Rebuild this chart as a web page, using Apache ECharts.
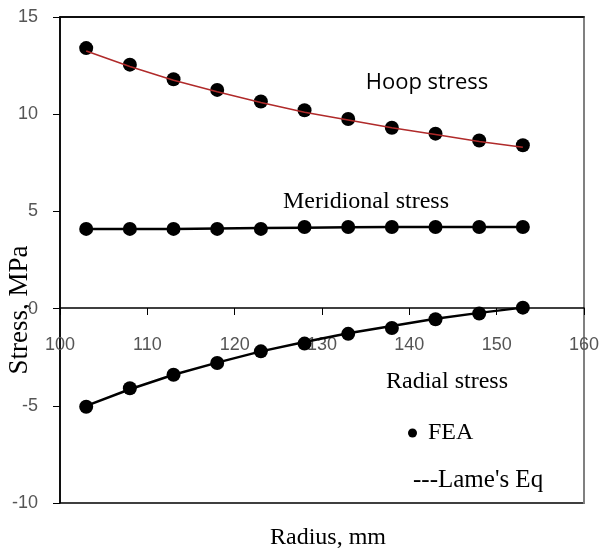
<!DOCTYPE html>
<html>
<head>
<meta charset="utf-8">
<script src="https://cdn.jsdelivr.net/npm/echarts@6/dist/echarts.min.js"></script>
<style>
html, body { margin: 0; padding: 0; background: #fff; }
#chart { width: 602px; height: 551px; }
</style>
</head>
<body>
<div id="chart"></div>
<script>
// radius, mm
var radius = [103, 108, 113, 118, 123, 128, 133, 138, 143, 148, 153];
// FEA points, MPa
var hoopFEA = [13.4, 12.55, 11.8, 11.25, 10.65, 10.2, 9.75, 9.3, 9.0, 8.65, 8.4];
var meridFEA = [4.1, 4.1, 4.1, 4.1, 4.1, 4.2, 4.2, 4.2, 4.2, 4.2, 4.2];
var radialFEA = [-5.05, -4.1, -3.4, -2.8, -2.2, -1.8, -1.3, -1.0, -0.55, -0.25, 0.05];
// Lame's equation curves, MPa
var hoopLame = [13.25, 12.45, 11.75, 11.15, 10.6, 10.1, 9.7, 9.3, 8.95, 8.6, 8.3];
var meridLame = [4.1, 4.1, 4.1, 4.12, 4.14, 4.16, 4.18, 4.2, 4.2, 4.2, 4.2];
var radialLame = [-5.0, -4.15, -3.4, -2.78, -2.2, -1.72, -1.27, -0.9, -0.52, -0.22, 0.05];
var xTicks = [100, 110, 120, 130, 140, 150, 160];
var yTicks = [-10, -5, 0, 5, 10, 15];

function pairs(xs, ys) {
	var out = [];
	for (var i = 0; i < xs.length; i++) {
		out.push([xs[i], ys[i]]);
	}
	return out;
}

function feaSeries(vals) {
	return {
		name : 'FEA',
		type : 'scatter',
		data : pairs(radius, vals),
		symbol : 'circle',
		symbolSize : 14,
		itemStyle : { color : '#000', opacity : 1 },
		z : 3
	};
}

function lameSeries(vals, color, width) {
	return {
		name : 'Lame',
		type : 'line',
		data : pairs(radius, vals),
		symbol : 'none',
		lineStyle : { color : color, width : width },
		z : 4
	};
}

var serif = '"Liberation Serif", "DejaVu Serif", serif';
var sans = '"Liberation Sans", Arial, sans-serif';

var myChart = echarts.init(document.getElementById('chart'));
var option = {
	animation : false,
	grid : {
		left : 60,
		right : 17,
		top : 17,
		bottom : 48,
		show : true,
		borderColor : '#000',
		borderWidth : 1.5
	},
	legend : {
		data : ['FEA'],
		left : 408,
		top : 421,
		padding : 0,
		icon : 'circle',
		itemWidth : 9,
		itemHeight : 9,
		itemStyle : { color : '#000', opacity : 1 },
		textStyle : {
			fontFamily : serif,
			fontSize : 24,
			color : '#000',
			padding : [0, 0, 0, 6]
		}
	},
	xAxis : [ {
		type : 'value',
		position : 'bottom',
		// bottom axis shifted up to sit on y = 0
		offset : -195,
		min : 100,
		max : 160,
		interval : 10,
		axisLine : { onZero : false, lineStyle : { color : '#000', width : 1.5 } },
		axisTick : { show : true, inside : false, length : 7, lineStyle : { color : '#000' } },
		axisLabel : {
			margin : 28,
			fontFamily : sans,
			fontSize : 18,
			color : '#555',
			formatter : function (v) { return xTicks.indexOf(v) >= 0 ? String(v) : ''; }
		},
		splitLine : { show : false }
	}, {
		type : 'value',
		position : 'top',
		min : 100,
		max : 160,
		axisLine : { show : true, onZero : false, lineStyle : { color : '#000', width : 1.5 } },
		axisTick : { show : false },
		axisLabel : { show : false },
		splitLine : { show : false }
	} ],
	yAxis : [ {
		type : 'value',
		min : -10,
		max : 15,
		interval : 5,
		axisLine : { show : true, onZero : false, lineStyle : { color : '#000', width : 1.5 } },
		axisTick : { show : true, inside : false, length : 7, lineStyle : { color : '#000' } },
		axisLabel : {
			margin : 22,
			fontFamily : sans,
			fontSize : 18,
			color : '#555',
			formatter : function (v) { return yTicks.indexOf(v) >= 0 ? String(v) : ''; }
		},
		splitLine : { show : false }
	}, {
		type : 'value',
		position : 'right',
		min : -10,
		max : 15,
		axisLine : { show : true, onZero : false, lineStyle : { color : '#808080', width : 2 } },
		axisTick : { show : false },
		axisLabel : { show : false },
		splitLine : { show : false }
	} ],
	series : [
		feaSeries(hoopFEA),
		feaSeries(meridFEA),
		feaSeries(radialFEA),
		lameSeries(hoopLame, '#b02a2a', 1.5),
		lameSeries(meridLame, '#000', 2.5),
		lameSeries(radialLame, '#000', 2.5)
	],
	graphic : [
		{ type : 'text', x : 427, y : 83, style : { text : 'Hoop stress', fontFamily : '"Open Sans", sans-serif', fontSize : 22, fill : '#000', align : 'center', verticalAlign : 'middle' } },
		{ type : 'text', x : 366, y : 202, style : { text : 'Meridional stress', fontFamily : serif, fontSize : 24, fill : '#000', align : 'center', verticalAlign : 'middle' } },
		{ type : 'text', x : 447, y : 382, style : { text : 'Radial stress', fontFamily : serif, fontSize : 24, fill : '#000', align : 'center', verticalAlign : 'middle' } },
		{ type : 'text', x : 413, y : 480, style : { text : "---Lame's Eq", fontFamily : serif, fontSize : 25, fill : '#000', align : 'left', verticalAlign : 'middle' } },
		{ type : 'text', x : 328, y : 538, style : { text : 'Radius, mm', fontFamily : serif, fontSize : 24, fill : '#000', align : 'center', verticalAlign : 'middle' } },
		{ type : 'text', x : 20, y : 310, rotation : Math.PI / 2, style : { text : 'Stress, MPa', fontFamily : serif, fontSize : 27, fill : '#000', align : 'center', verticalAlign : 'middle' } }
	]
};
myChart.setOption(option, true);
</script>
</body>
</html>
